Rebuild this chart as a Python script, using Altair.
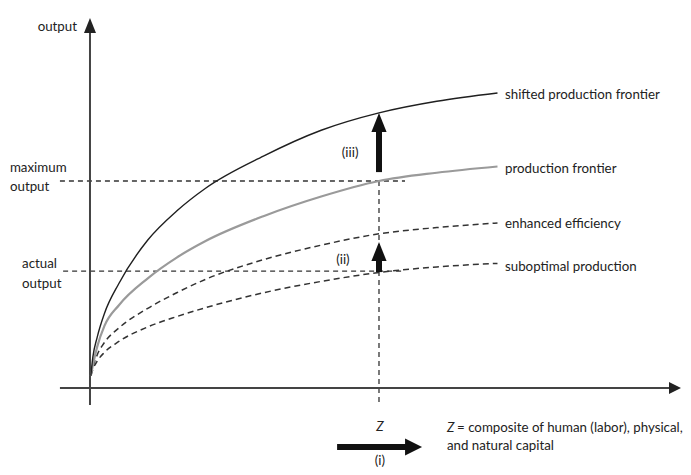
import altair as alt
import pandas as pd

# ---- data (capital Z is marked at 10, maximum output = 10) ----
capital = [0.03, 0.1, 0.25, 0.5, 1, 2, 3, 4, 6, 8, 10, 12, 14.1]
shifted_frontier = [0.6, 1.5, 2.46, 3.6, 5.05, 7.15, 8.55, 9.65, 11.2, 12.45, 13.29, 13.85, 14.25]
production_frontier = [0.6, 1.1, 2.0, 3.0, 4.0, 5.3, 6.3, 7.1, 8.3, 9.25, 10.0, 10.4, 10.7]
enhanced_efficiency = [0.6, 1.0, 1.6, 2.2, 2.9, 3.85, 4.6, 5.25, 6.2, 6.9, 7.45, 7.75, 7.97]
suboptimal_production = [0.6, 0.9, 1.3, 1.72, 2.25, 2.95, 3.45, 3.88, 4.6, 5.15, 5.58, 5.85, 6.02]

z_level = 10
max_output = 10.0
actual_output = 5.65

# guide lines: x, y, x2, y2
guide_x = [-1.04, -0.93, z_level]
guide_y = [max_output, actual_output, max_output]
guide_x2 = [10.9, 10.9, z_level]
guide_y2 = [max_output, actual_output, -0.72]

# axes
axis_x = [0, -1.04]
axis_y = [-0.82, 0]
axis_x2 = [0, 20.1]
axis_y2 = [17.3, 0]

# text labels
label_text = ["output", "maximum", "output", "actual", "output",
              "shifted production frontier", "production frontier",
              "enhanced efficiency", "suboptimal production",
              "(iii)", "(ii)", "(i)",
              "= composite of human (labor), physical,", "and natural capital"]
label_x = [-0.45, -2.77, -2.77, -2.35, -2.35,
           14.36, 14.36, 14.36, 14.36,
           9.0, 8.75, 10.03,
           12.7, 12.35]
label_y = [17.44, 10.63, 9.71, 5.99, 5.02,
           14.15, 10.58, 7.92, 5.85,
           11.35, 6.18, -3.53,
           -1.93, -2.80]
label_align = ["right", "left", "left", "left", "left",
               "left", "left", "left", "left",
               "center", "center", "center",
               "left", "left"]

z_text = ["Z", "Z"]
z_x = [10.03, 12.35]
z_y = [-1.88, -1.93]
z_align = ["center", "left"]

FONT = "Lato"
X_DOM = [-2.837, 20.519]
Y_DOM = [-3.816, 18.357]

xs = alt.Scale(domain=X_DOM, nice=False, zero=False)
ys = alt.Scale(domain=Y_DOM, nice=False, zero=False)

curves = pd.DataFrame({
    "capital": capital * 4,
    "output": shifted_frontier + production_frontier + enhanced_efficiency + suboptimal_production,
    "series": (["shifted"] * len(capital) + ["frontier"] * len(capital)
               + ["enhanced"] * len(capital) + ["suboptimal"] * len(capital)),
})

guides = pd.DataFrame({"x": guide_x, "y": guide_y, "x2": guide_x2, "y2": guide_y2})
axes = pd.DataFrame({"x": axis_x, "y": axis_y, "x2": axis_x2, "y2": axis_y2})
labels = pd.DataFrame({"text": label_text, "x": label_x, "y": label_y, "align": label_align})
zlabels = pd.DataFrame({"text": z_text, "x": z_x, "y": z_y, "align": z_align})

# arrows: shafts and heads (tip positions)
shafts = pd.DataFrame({
    "x": [z_level, z_level, 8.55],
    "y": [10.43, 5.6, -2.85],
    "x2": [z_level, z_level, 11.0],
    "y2": [12.45, 6.25, -2.85],
})
up_heads = pd.DataFrame({"x": [z_level, z_level], "y": [13.29, 7.05]})
right_heads = pd.DataFrame({"x": [11.49], "y": [-2.85]})
axis_up_head = pd.DataFrame({"x": [0], "y": [17.87]})
axis_right_head = pd.DataFrame({"x": [20.45], "y": [0]})

UP_TRI = "M0,0L0.8,2L-0.8,2Z"
RIGHT_TRI = "M0,0L-2,-1L-2,1Z"


def enc(base):
    return base.encode(
        x=alt.X("x:Q", scale=xs, axis=None),
        y=alt.Y("y:Q", scale=ys, axis=None),
    )


def line_layer(name, **kw):
    return alt.Chart(curves).transform_filter(alt.datum.series == name).mark_line(
        interpolate="monotone", **kw
    ).encode(
        x=alt.X("capital:Q", scale=xs, axis=None),
        y=alt.Y("output:Q", scale=ys, axis=None),
    )


axis_lines = alt.Chart(axes).mark_rule(color="#444444", strokeWidth=2).encode(
    x=alt.X("x:Q", scale=xs, axis=None), y=alt.Y("y:Q", scale=ys, axis=None),
    x2="x2:Q", y2="y2:Q")

guide_lines = alt.Chart(guides).mark_rule(color="#333333", strokeWidth=1.3, strokeDash=[5, 4]).encode(
    x=alt.X("x:Q", scale=xs, axis=None), y=alt.Y("y:Q", scale=ys, axis=None),
    x2="x2:Q", y2="y2:Q")

shaft_lines = alt.Chart(shafts).mark_rule(color="#111111", strokeWidth=6).encode(
    x=alt.X("x:Q", scale=xs, axis=None), y=alt.Y("y:Q", scale=ys, axis=None),
    x2="x2:Q", y2="y2:Q")

heads_up = enc(alt.Chart(up_heads).mark_point(shape=UP_TRI, size=361, filled=True,
                                              color="#111111", opacity=1, strokeWidth=0))
heads_right = enc(alt.Chart(right_heads).mark_point(shape=RIGHT_TRI, size=289, filled=True,
                                                    color="#111111", opacity=1, strokeWidth=0))
ax_head_up = enc(alt.Chart(axis_up_head).mark_point(shape="M0,0L0.8,2L-0.8,2Z", size=225, filled=True,
                                                    color="#222222", opacity=1, strokeWidth=0))
ax_head_right = enc(alt.Chart(axis_right_head).mark_point(shape="M0,0L-2,-1L-2,1Z", size=144, filled=True,
                                                          color="#222222", opacity=1, strokeWidth=0))

shifted_line = line_layer("shifted", color="#1f1f1f", strokeWidth=1.4)
frontier_line = line_layer("frontier", color="#9a9a9a", strokeWidth=2.2)
enhanced_line = line_layer("enhanced", color="#333333", strokeWidth=1.5, strokeDash=[6, 4])
subopt_line = line_layer("suboptimal", color="#333333", strokeWidth=1.5, strokeDash=[6, 4])


def text_layer(df, align, **kw):
    return alt.Chart(df).transform_filter(alt.datum.align == align).mark_text(
        align=align, baseline="middle", font=FONT, fontSize=13.3, color="#222222", **kw
    ).encode(
        x=alt.X("x:Q", scale=xs, axis=None),
        y=alt.Y("y:Q", scale=ys, axis=None),
        text="text:N",
    )


texts = [text_layer(labels, a) for a in ["left", "right", "center"]]
ztexts = [text_layer(zlabels, a, fontStyle="italic") for a in ["left", "center"]]

chart = alt.layer(
    guide_lines, axis_lines, ax_head_up, ax_head_right,
    subopt_line, enhanced_line, frontier_line, shifted_line,
    shaft_lines, heads_up, heads_right,
    *texts, *ztexts,
).properties(
    width=675, height=459,
    autosize=alt.AutoSizeParams(type="none"),
    padding=0,
).configure_view(stroke=None)

chart.save("out.html", embed_options={"renderer": "svg", "actions": False})
